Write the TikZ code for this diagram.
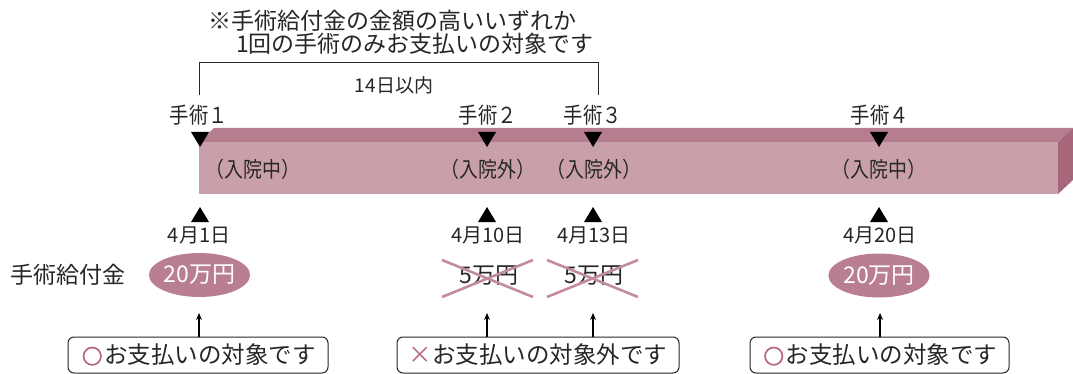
\documentclass[tikz,border=0pt]{standalone}
\usepackage{fontspec}
\setmainfont{Noto Sans CJK JP}
\newfontfamily\condfont[FakeStretch=0.88]{Noto Sans CJK JP}
\usetikzlibrary{arrows.meta,shapes.geometric}
\definecolor{txt}{HTML}{262626}
\definecolor{barfront}{HTML}{C9A0AA}
\definecolor{bartop}{HTML}{B67D8E}
\definecolor{barside}{HTML}{A8667B}
\definecolor{ellfill}{HTML}{B97F90}
\definecolor{crossc}{HTML}{C38C9C}
\definecolor{markc}{HTML}{B5677F}
\newcommand{\okmark}{\makebox[1em][c]{\textcolor{markc}{\rule[-0.02em]{0pt}{0.7em}\smash{\raisebox{0.33em}{\tikz[baseline=0pt]\draw[markc,line width=1.7pt] (0,0) circle[radius=0.37em];}}}}}
\tikzset{
  lbl/.style={inner sep=0pt, text=txt},
  fa/.style={font=\fontsize{23}{25}\selectfont},
  fb/.style={font=\fontsize{20}{22}\selectfont},
  fop/.style={font=\condfont\fontsize{22}{24}\selectfont},
  fc/.style={font=\condfont\fontsize{21.5}{23}\selectfont},
  fd/.style={font=\fontsize{19}{21}\selectfont},
  amount/.style={ellipse, fill=ellfill, minimum width=101pt, minimum height=44pt, inner sep=0pt, text=white, font=\fontsize{23}{25}\selectfont},
  plain/.style={inner sep=0pt, text=txt, font=\fontsize{23}{25}\selectfont},
  msgbox/.style={draw=txt, line width=1pt, rounded corners=6pt, minimum height=36pt, inner sep=0pt, text=txt, font=\fontsize{23.5}{25}\selectfont},
  arr/.style={draw=black, line width=1.3pt, -{Stealth[length=7pt,width=6pt]}},
  crossline/.style={draw=crossc, line width=2.6pt},
}
\begin{document}
\begin{tikzpicture}[x=1pt,y=-1pt]
\useasboundingbox (0,0) rectangle (1073,374);
% bar
\fill[barfront] (199,142) rectangle (1058,194);
\fill[bartop] (199,142) -- (214,128) -- (1073,128) -- (1058,142) -- cycle;
\fill[barside] (1058,142) -- (1073,128) -- (1073,180) -- (1058,194) -- cycle;
% note
\node[lbl,fa] (note1) at (392.5,21) {※手術給付金の金額の高いいずれか};
\node[lbl,fa] (note2) at (415,44) {1回の手術のみお支払いの対象です};
% bracket
\coordinate (bl) at (199,95);
\coordinate (br) at (598,95);
\draw[txt, line width=1pt] (bl) -- (199,63) -- (598,63) -- (br);
\node[lbl,fd] (within) at (394,85) {14日以内};
% operation labels
\node[lbl,fop] (op1) at (199,115) {手術１};
\node[lbl,fop] (op2) at (488,115) {手術２};
\node[lbl,fop] (op3) at (593,115) {手術３};
\node[lbl,fop] (op4) at (880,115) {手術４};
% down markers
\foreach \x in {200,487,593,879}{
  \fill[black] (\x-9,132) -- (\x+9,132) -- (\x,147) -- cycle;
}
% state labels
\node[lbl,fc] (st1) at (253,169) {（入院中）};
\node[lbl,fc] (st2) at (488,169) {（入院外）};
\node[lbl,fc] (st3) at (594,169) {（入院外）};
\node[lbl,fc] (st4) at (879,169) {（入院中）};
% up markers
\foreach \x in {200,487,593,879}{
  \fill[black] (\x-9,222) -- (\x+9,222) -- (\x,207) -- cycle;
}
% dates
\node[lbl,fb] (d1) at (199,235) {4月1日};
\node[lbl,fb] (d2) at (488,235) {4月10日};
\node[lbl,fb] (d3) at (594,235) {4月13日};
\node[lbl,fb] (d4) at (880,235) {4月20日};
% amounts
\node[lbl,fa] (benefit) at (68,275) {手術給付金};
\node[amount] (e1) at (199.5,275) {20万円};
\node[plain] (c2) at (489,276) {5万円};
\node[plain] (c3) at (594,276) {5万円};
\node[amount] (e4) at (879,275.5) {20万円};
\draw[crossline] (442,260) -- (533,297);
\draw[crossline] (442,297) -- (533,260);
\draw[crossline] (547,260) -- (638,297);
\draw[crossline] (547,297) -- (638,260);
% message boxes
\node[msgbox, minimum width=260pt] (b1) at (198,355) {\okmark お支払いの対象です};
\node[msgbox, minimum width=282pt] (b2) at (538,355) {\makebox[1em][c]{\textcolor{markc}{×}}お支払いの対象外です};
\node[msgbox, minimum width=259pt] (b3) at (879.5,355) {\okmark お支払いの対象です};
% arrows
\coordinate (t1) at (199,313);
\coordinate (t2) at (487,313);
\coordinate (t3) at (593,313);
\coordinate (t4) at (880,313);
\draw[arr] (b1.north -| t1) -- (t1);
\draw[arr] (b2.north -| t2) -- (t2);
\draw[arr] (b2.north -| t3) -- (t3);
\draw[arr] (b3.north -| t4) -- (t4);
\end{tikzpicture}
\end{document}
